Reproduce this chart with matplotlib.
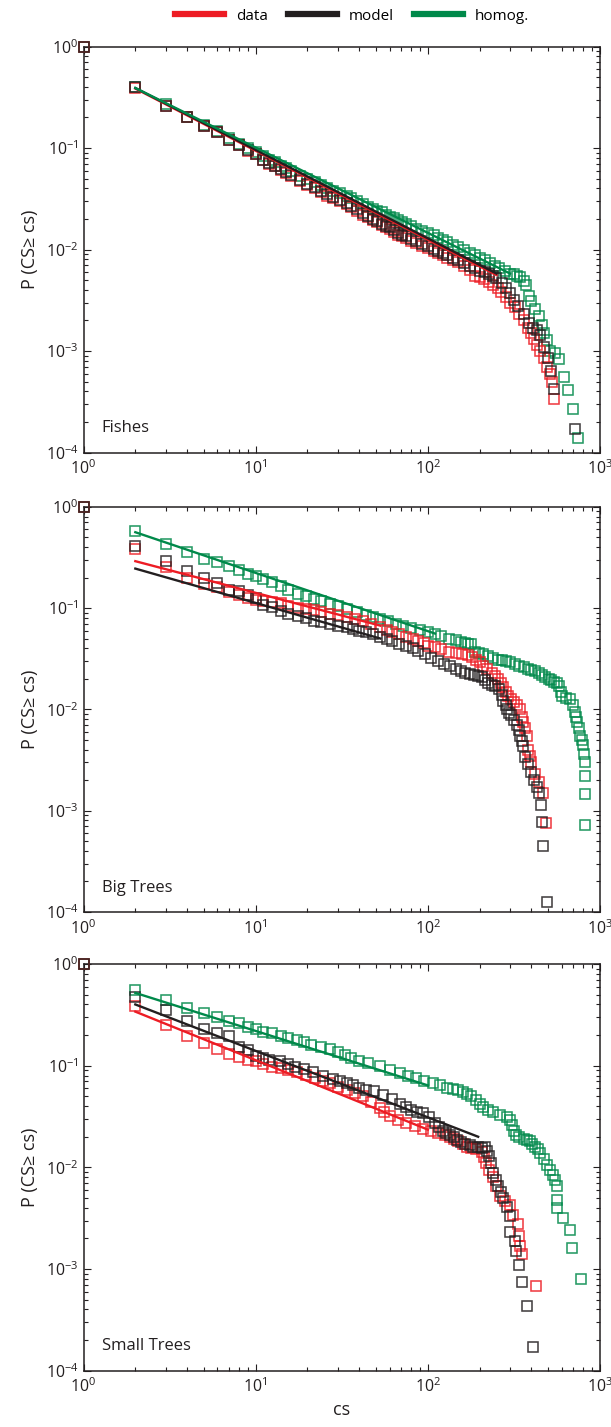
import matplotlib
matplotlib.use("Agg")
import matplotlib.pyplot as plt
from matplotlib.ticker import LogLocator, NullFormatter
from matplotlib.lines import Line2D

plt.rcParams['font.family'] = ['Open Sans', 'DejaVu Sans']
plt.rcParams['mathtext.fontset'] = 'custom'
plt.rcParams['mathtext.rm'] = 'Open Sans'

RED = '#ED1C24'
BLACK = '#231F20'
GREEN = '#00894A'

# ---------------- Fishes ----------------
fish_data_cs = [1, 2, 3, 4, 5, 6, 7, 8, 9, 10, 11, 12, 13, 14, 15, 16, 18, 20, 22, 24, 26, 28, 31, 34,
                36, 39, 42, 45, 48, 51, 54, 57, 60, 64, 67, 71, 75, 80, 85, 92, 100, 108, 115, 122, 130,
                140, 150, 162, 175, 187, 200, 213, 227, 240, 255, 267, 285, 300, 320, 340, 360, 380,
                400, 415, 430, 450, 470, 490, 510, 525, 540]
fish_data_p = [1, 0.39, 0.26, 0.20, 0.165, 0.143, 0.12, 0.107, 0.094, 0.087, 0.077, 0.07, 0.066, 0.061,
               0.057, 0.053, 0.047, 0.043, 0.040, 0.037, 0.034, 0.032, 0.030, 0.028, 0.026, 0.024,
               0.022, 0.021, 0.0195, 0.0185, 0.0175, 0.0168, 0.016, 0.015, 0.014, 0.0135, 0.013,
               0.0122, 0.0115, 0.0108, 0.0103, 0.0097, 0.0092, 0.0088, 0.0083, 0.0079, 0.0075,
               0.0069, 0.0063, 0.0055, 0.0053, 0.0051, 0.0048, 0.0045, 0.0042, 0.0038, 0.0034,
               0.0030, 0.0027, 0.0023, 0.0020, 0.0017, 0.0015, 0.0013, 0.00115, 0.001, 0.00085,
               0.0007, 0.0006, 0.0005, 0.00034]
fish_model_cs = [1, 2, 3, 4, 5, 6, 7, 8, 9, 10, 11, 12, 13, 14, 15, 16, 18, 20, 22, 24, 26, 28, 31, 34,
                 36, 39, 42, 45, 48, 51, 54, 57, 60, 64, 67, 71, 75, 80, 85, 92, 100, 108, 115, 122, 130,
                 140, 150, 162, 175, 187, 200, 215, 228, 240, 250, 268, 285, 300, 318, 335, 360, 385,
                 410, 430, 448, 470, 500, 520, 540, 718]
fish_model_p = [1, 0.40, 0.26, 0.20, 0.166, 0.145, 0.12, 0.108, 0.095, 0.088, 0.077, 0.071, 0.066, 0.062,
                0.058, 0.054, 0.048, 0.044, 0.041, 0.038, 0.035, 0.033, 0.031, 0.029, 0.027, 0.025,
                0.023, 0.0215, 0.020, 0.019, 0.018, 0.0172, 0.0165, 0.0155, 0.0146, 0.014, 0.0135,
                0.0127, 0.012, 0.0113, 0.0108, 0.0102, 0.0097, 0.0092, 0.0088, 0.0083, 0.0078,
                0.0073, 0.0069, 0.0066, 0.0062, 0.006, 0.0058, 0.0055, 0.0052, 0.0047, 0.0042,
                0.0037, 0.0032, 0.0028, 0.0023, 0.0019, 0.0017, 0.0016, 0.00145, 0.0011, 0.00085,
                0.00063, 0.00042, 0.00017]
fish_homog_cs = [1, 2, 3, 4, 5, 6, 7, 8, 9, 10, 11, 12, 13, 14, 15, 16, 18, 20, 22, 24, 26, 28, 31, 34,
                 36, 39, 42, 45, 48, 51, 54, 57, 60, 64, 67, 71, 75, 80, 85, 92, 100, 108, 115, 122, 130,
                 140, 150, 162, 175, 187, 200, 215, 230, 245, 260, 280, 300, 315, 330, 345, 360, 372,
                 385, 400, 420, 440, 460, 475, 490, 510, 545, 580, 620, 650, 700, 745]
fish_homog_p = [1, 0.40, 0.27, 0.20, 0.17, 0.148, 0.125, 0.11, 0.10, 0.092, 0.083, 0.077, 0.072, 0.067,
                0.063, 0.059, 0.053, 0.049, 0.046, 0.043, 0.040, 0.038, 0.036, 0.034, 0.032, 0.030,
                0.028, 0.0265, 0.025, 0.024, 0.0235, 0.022, 0.021, 0.0203, 0.0196, 0.0188, 0.018,
                0.017, 0.016, 0.0153, 0.0146, 0.0138, 0.013, 0.0124, 0.0118, 0.0111, 0.0105, 0.0099,
                0.0093, 0.0088, 0.0083, 0.0078, 0.0073, 0.0069, 0.0066, 0.0062, 0.0058, 0.0057,
                0.0055, 0.0053, 0.0049, 0.0045, 0.0035, 0.0031, 0.0026, 0.0022, 0.0018, 0.0015,
                0.00127, 0.001, 0.00095, 0.00083, 0.00056, 0.00041, 0.00027, 0.00014]

# ---------------- Big Trees ----------------
big_data_cs = [1, 2, 3, 4, 5, 6, 7, 8, 9, 10, 11, 12.5, 14, 15.5, 17.5, 19.5, 21.8, 24, 27, 30, 34, 38,
               42, 47, 53, 58, 62, 68, 75, 82, 88, 95, 100, 110, 120, 132, 145, 158, 172, 180, 190,
               200, 210, 222, 235, 245, 257, 266, 275, 284, 292, 303, 315, 328, 343, 352, 359, 367,
               375, 384, 392, 400, 418, 440, 465, 485]
big_data_p = [1, 0.385, 0.255, 0.198, 0.174, 0.16, 0.145, 0.135, 0.125, 0.12, 0.118, 0.115, 0.111, 0.105,
              0.10, 0.097, 0.095, 0.091, 0.088, 0.085, 0.082, 0.078, 0.075, 0.07, 0.065, 0.061, 0.058,
              0.055, 0.052, 0.049, 0.047, 0.045, 0.0425, 0.041, 0.039, 0.037, 0.036, 0.035, 0.034,
              0.0325, 0.031, 0.029, 0.027, 0.025, 0.023, 0.0215, 0.020, 0.018, 0.0165, 0.015, 0.0136,
              0.0127, 0.0118, 0.011, 0.010, 0.0085, 0.0075, 0.0065, 0.0055, 0.004, 0.0035, 0.003,
              0.0023, 0.0019, 0.0015, 0.00075]
big_model_cs = [1, 2, 3, 4, 5, 6, 7, 8, 9, 10, 11, 12.5, 14, 15.5, 17.5, 19.5, 21.8, 24, 27, 30, 34, 37,
                40, 44, 48, 53, 58, 62, 68, 75, 82, 88, 96, 105, 115, 124, 134, 145, 155, 164, 175,
                185, 195, 205, 215, 225, 235, 245, 260, 268, 275, 283, 290, 298, 306, 318, 330, 337,
                343, 351, 359, 367, 380, 400, 415, 430, 445, 455, 460, 465, 490]
big_model_p = [1, 0.405, 0.29, 0.23, 0.198, 0.177, 0.152, 0.146, 0.135, 0.126, 0.108, 0.103, 0.093,
               0.088, 0.084, 0.079, 0.075, 0.072, 0.07, 0.067, 0.065, 0.062, 0.06, 0.058, 0.055, 0.052,
               0.049, 0.047, 0.044, 0.042, 0.040, 0.038, 0.035, 0.032, 0.030, 0.028, 0.0265, 0.025,
               0.024, 0.0227, 0.0223, 0.022, 0.0215, 0.021, 0.0195, 0.018, 0.0175, 0.017, 0.016,
               0.014, 0.012, 0.011, 0.010, 0.0093, 0.0087, 0.0078, 0.007, 0.0062, 0.0055, 0.0049,
               0.0043, 0.0034, 0.0029, 0.0024, 0.002, 0.0017, 0.0015, 0.00115, 0.00078, 0.00045,
               0.000125]
big_homog_cs = [1, 2, 3, 4, 5, 6, 7, 8, 9, 10, 11, 12.5, 14, 15.5, 17.5, 19.5, 21.8, 24, 27, 30, 34, 39,
                44, 48, 53, 59, 65, 72, 80, 90, 100, 110, 120, 132, 145, 155, 165, 172, 179, 187, 198,
                210, 225, 240, 255, 268, 285, 300, 320, 340, 360, 380, 400, 418, 440, 460, 480, 503,
                520, 540, 560, 575, 590, 600, 635, 670, 695, 720, 730, 740, 755, 770, 785, 800, 805,
                815, 820, 820, 820]
big_homog_p = [1, 0.57, 0.43, 0.357, 0.307, 0.284, 0.257, 0.24, 0.218, 0.207, 0.195, 0.18, 0.165, 0.152,
               0.138, 0.131, 0.124, 0.117, 0.11, 0.104, 0.098, 0.091, 0.085, 0.081, 0.078, 0.074,
               0.07, 0.067, 0.064, 0.061, 0.058, 0.056, 0.053, 0.05, 0.048, 0.0465, 0.045, 0.0445,
               0.044, 0.037, 0.036, 0.035, 0.0335, 0.032, 0.031, 0.0305, 0.0298, 0.029, 0.028, 0.027,
               0.026, 0.025, 0.0245, 0.024, 0.023, 0.022, 0.021, 0.020, 0.0195, 0.0185, 0.018, 0.017,
               0.015, 0.0136, 0.013, 0.0127, 0.011, 0.0094, 0.0085, 0.0075, 0.0065, 0.0055, 0.005,
               0.0044, 0.0036, 0.003, 0.0022, 0.00146, 0.00072]

# ---------------- Small Trees ----------------
small_data_cs = [1, 2, 3, 4, 5, 6, 7, 8, 9, 10, 11, 12.4, 14, 15.5, 17.3, 19.5, 22, 24.5, 27, 30, 34, 38,
                 42, 47, 52.6, 56, 60, 67, 75, 84, 94, 104, 115, 125, 134, 142, 150, 160, 168, 178,
                 190, 205, 212, 219, 228, 240, 250, 262, 280, 300, 312, 333, 340, 345, 350, 425]
small_data_p = [1, 0.386, 0.25, 0.196, 0.166, 0.145, 0.13, 0.122, 0.114, 0.11, 0.104, 0.098, 0.094,
                0.09, 0.087, 0.081, 0.075, 0.071, 0.067, 0.062, 0.058, 0.054, 0.05, 0.044, 0.038,
                0.035, 0.032, 0.029, 0.027, 0.0255, 0.024, 0.023, 0.022, 0.021, 0.020, 0.019, 0.018,
                0.017, 0.016, 0.0155, 0.015, 0.014, 0.0125, 0.011, 0.0095, 0.008, 0.0065, 0.0052,
                0.0047, 0.0043, 0.0034, 0.0028, 0.0021, 0.0017, 0.0014, 0.00068]
small_model_cs = [1, 2, 3, 4, 5, 6, 7, 8, 9, 10, 11, 12, 13.8, 15.5, 17, 19, 21.5, 24.5, 28, 31, 33.7,
                  37, 40, 44, 48.5, 55, 62, 69, 75, 80, 87, 94, 102, 110, 116, 122, 128, 135, 141, 147,
                  155, 165, 175, 183, 195, 205, 214, 221, 228, 234, 240, 248, 256, 265, 275, 287, 300,
                  302, 320, 327, 337, 353, 375, 410]
small_model_p = [1, 0.47, 0.35, 0.275, 0.228, 0.208, 0.196, 0.152, 0.143, 0.125, 0.12, 0.115, 0.11,
                 0.104, 0.098, 0.092, 0.087, 0.08, 0.074, 0.07, 0.067, 0.064, 0.061, 0.058, 0.056,
                 0.052, 0.047, 0.042, 0.039, 0.037, 0.035, 0.034, 0.031, 0.027, 0.025, 0.023, 0.022,
                 0.021, 0.0198, 0.0186, 0.0178, 0.017, 0.0165, 0.016, 0.0158, 0.0156, 0.016, 0.0145,
                 0.0128, 0.011, 0.0087, 0.0075, 0.0065, 0.0057, 0.005, 0.0041, 0.0033, 0.0023, 0.0019,
                 0.0015, 0.0011, 0.00074, 0.00043, 0.00017]
small_homog_cs = [1, 2, 3, 4, 5, 6, 7, 8, 9, 10, 11, 12.4, 14, 15.5, 17.3, 19, 21, 24, 27, 30, 33, 36, 40,
                  45, 52.6, 60, 69, 77, 85, 95, 107, 118, 130, 140, 150, 160, 168, 178, 190, 200, 210,
                  225, 240, 262, 288, 300, 310, 318, 326, 340, 360, 375, 390, 405, 420, 435, 447, 470,
                  490, 512, 535, 550, 560, 565, 565, 610, 670, 690, 780]
small_homog_p = [1, 0.56, 0.44, 0.37, 0.33, 0.30, 0.277, 0.26, 0.24, 0.228, 0.215, 0.208, 0.195, 0.187,
                 0.179, 0.17, 0.16, 0.152, 0.145, 0.137, 0.127, 0.12, 0.112, 0.106, 0.099, 0.091, 0.084,
                 0.079, 0.075, 0.071, 0.067, 0.064, 0.061, 0.059, 0.057, 0.055, 0.053, 0.05, 0.046,
                 0.042, 0.039, 0.037, 0.035, 0.033, 0.031, 0.029, 0.026, 0.023, 0.021, 0.02, 0.019,
                 0.0185, 0.018, 0.017, 0.016, 0.015, 0.0138, 0.012, 0.0105, 0.0094, 0.0084, 0.0075,
                 0.0065, 0.0048, 0.004, 0.0032, 0.0024, 0.0016, 0.00079]

# Power-law fits: (cs at start, cs at end) and (P at start, P at end)
fish_fit = {'data': ([2, 250], [0.385, 0.0056]),
            'model': ([2, 250], [0.39, 0.0058]),
            'homog': ([2, 300], [0.39, 0.0058])}
big_fit = {'data': ([2, 53], [0.29, 0.067]),
           'model': ([2, 53], [0.245, 0.05]),
           'homog': ([2, 110], [0.56, 0.056])}
small_fit = {'data': ([2, 100], [0.34, 0.0235]),
             'model': ([2, 196], [0.40, 0.020]),
             'homog': ([2, 100], [0.52, 0.064])}

panels = [
    ('Fishes', (fish_data_cs, fish_data_p), (fish_model_cs, fish_model_p),
     (fish_homog_cs, fish_homog_p), fish_fit),
    ('Big Trees', (big_data_cs, big_data_p), (big_model_cs, big_model_p),
     (big_homog_cs, big_homog_p), big_fit),
    ('Small Trees', (small_data_cs, small_data_p), (small_model_cs, small_model_p),
     (small_homog_cs, small_homog_p), small_fit),
]

fig = plt.figure(figsize=(6.11, 14.27), dpi=100)
W, H = 611, 1427
left, right = 83.5 / W, 600 / W
boxes = [(46.5, 452.5), (506.7, 912), (964, 1370.7)]

mk = dict(marker='s', linestyle='none', markerfacecolor='none', markersize=6.8,
          markeredgewidth=1.15, clip_on=False, alpha=0.85)

for (name, d, m, h, fit), (ytop, ybot) in zip(panels, boxes):
    ax = fig.add_axes([left, 1 - ybot / H, right - left, (ybot - ytop) / H])
    ax.set_xscale('log')
    ax.set_yscale('log')
    ax.set_xlim(1, 1000)
    ax.set_ylim(1e-4, 1)

    ax.plot(h[0], h[1], color=GREEN, zorder=3, **mk)
    ax.plot(d[0], d[1], color=RED, zorder=4, **mk)
    ax.plot(m[0], m[1], color=BLACK, zorder=5, **mk)

    ax.plot(*fit['data'], color=RED, lw=1.7, zorder=6)
    ax.plot(*fit['model'], color=BLACK, lw=1.7, zorder=6)
    ax.plot(*fit['homog'], color=GREEN, lw=1.7, zorder=7)

    ax.text(0.035, 0.06, name, transform=ax.transAxes, fontsize=12,
            ha='left', va='center', color='#231F20')

    ax.xaxis.set_major_locator(LogLocator(base=10, numticks=10))
    ax.yaxis.set_major_locator(LogLocator(base=10, numticks=10))
    ax.xaxis.set_minor_locator(LogLocator(base=10, subs=range(2, 10), numticks=20))
    ax.yaxis.set_minor_locator(LogLocator(base=10, subs=range(2, 10), numticks=20))
    ax.xaxis.set_minor_formatter(NullFormatter())
    ax.yaxis.set_minor_formatter(NullFormatter())
    ax.tick_params(which='both', direction='in', top=True, right=True,
                   labelsize=11.5, colors='#231F20', width=0.8)
    ax.tick_params(which='major', length=5)
    ax.tick_params(which='minor', length=3)
    ax.tick_params(axis='x', pad=5)
    for s in ax.spines.values():
        s.set_linewidth(1.1)
        s.set_color('#231F20')
    ax.set_ylabel('P (CS\u2265 cs)', fontsize=13, labelpad=5, color='#231F20')

ax.set_xlabel('cs', fontsize=13, labelpad=3, color='#231F20')

handles = [Line2D([], [], color=RED, lw=4.5), Line2D([], [], color=BLACK, lw=4.5),
           Line2D([], [], color=GREEN, lw=4.5)]
fig.legend(handles, ['data', 'model', 'homog.'], loc='center', ncol=3,
           bbox_to_anchor=(352 / W, 1 - 16 / H), frameon=False, fontsize=11,
           handlelength=3.2, handletextpad=0.8, columnspacing=1.3)

fig.savefig('out.png', dpi=100)
